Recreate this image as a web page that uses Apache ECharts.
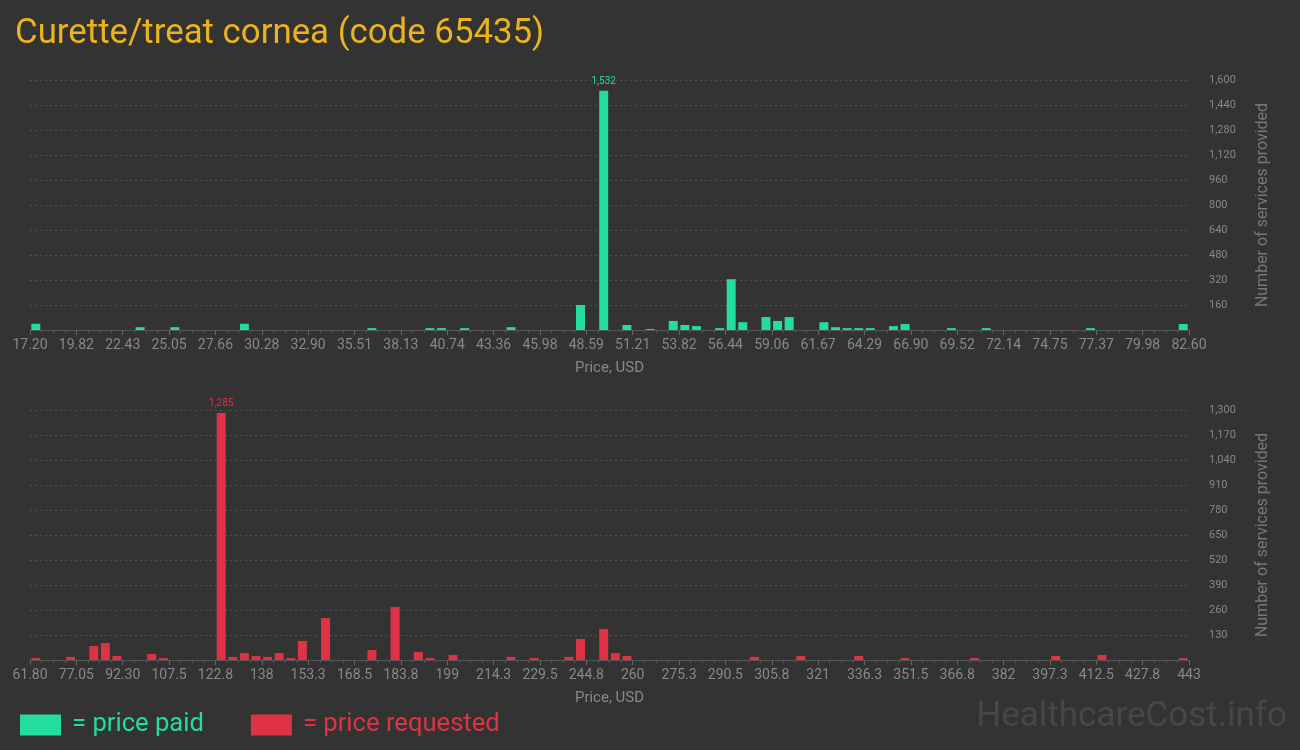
<!DOCTYPE html>
<html>
<head>
<meta charset="utf-8">
<script src="https://cdn.jsdelivr.net/npm/echarts@6/dist/echarts.min.js"></script>
<style>
html,body{margin:0;padding:0;background:#333333;}
#chart{width:1300px;height:750px;}
</style>
</head>
<body>
<div id="chart"></div>
<script>
// ---- data ----
const titleText = 'Curette/treat cornea (code 65435)';
const xLabelsTop = ['17.20','19.82','22.43','25.05','27.66','30.28','32.90','35.51','38.13','40.74','43.36','45.98','48.59','51.21','53.82','56.44','59.06','61.67','64.29','66.90','69.52','72.14','74.75','77.37','79.98','82.60'];
const xLabelsBottom = ['61.80','77.05','92.30','107.5','122.8','138','153.3','168.5','183.8','199','214.3','229.5','244.8','260','275.3','290.5','305.8','321','336.3','351.5','366.8','382','397.3','412.5','427.8','443'];
// bin index (0..99) of each bar, and count in that bin
const paidBins = [0,9,12,18,29,34,35,37,41,47,49,51,53,55,56,57,59,60,61,63,64,65,68,69,70,71,72,74,75,79,82,91,99];
const paidCounts = [40,18,18,40,12,12,12,12,18,160,1532,32,6,58,32,25,12,325,50,83,58,83,50,18,12,12,12,25,38,12,12,12,38];
const requestedBins = [0,3,5,6,7,10,11,16,17,18,19,20,21,22,23,25,29,31,33,34,36,41,43,46,47,49,50,51,62,66,71,75,81,88,92,99];
const requestedCounts = [10,16,73,88,21,31,10,1285,16,36,21,16,36,10,99,218,52,276,42,10,26,16,10,16,109,161,36,21,16,21,21,10,10,21,26,10];
const yTopMax = 1600, yTopStep = 160;
const yBottomMax = 1300, yBottomStep = 130;
const binCount = 100, binsPerLabel = 4;

const GREEN = '#22dd9b';
const RED = '#dd3344';
const FONT = 'Roboto';

function fmt(n){ return n.toLocaleString('en-US'); }

function buildData(bins, counts, color){
  const maxV = Math.max.apply(null, counts);
  return bins.map((b, k) => {
    const item = { value: [b + 0.5, counts[k]] };
    if (counts[k] === maxV) {
      item.label = { show: true, position: 'top', distance: 4, color: color, fontSize: 10, fontFamily: FONT,
        formatter: (p) => fmt(p.value[1]) };
    }
    return item;
  });
}

function xAxisCfg(gridIndex, labels){
  return {
    type: 'value', gridIndex: gridIndex, min: 0, max: binCount, interval: binsPerLabel,
    name: 'Price, USD', nameLocation: 'middle', nameGap: 31,
    nameTextStyle: { color: '#888', fontSize: 15, fontFamily: FONT },
    axisLine: { show: true, lineStyle: { color: '#555' } },
    axisTick: { show: true, length: 5, lineStyle: { color: '#666' } },
    minorTick: { show: true, splitNumber: binsPerLabel, length: 3, lineStyle: { color: '#555' } },
    splitLine: { show: false },
    axisLabel: { color: '#888', fontSize: 14, fontFamily: FONT, margin: 8,
      showMinLabel: true, showMaxLabel: true,
      formatter: (v) => labels[Math.round(v / binsPerLabel)] }
  };
}

function yAxisCfg(gridIndex, max, step){
  return {
    type: 'value', gridIndex: gridIndex, position: 'right', min: 0, max: max, interval: step,
    name: 'Number of services provided', nameLocation: 'middle', nameGap: 66,
    nameTextStyle: { color: '#777', fontSize: 16, fontFamily: FONT },
    axisLine: { show: false }, axisTick: { show: false },
    splitLine: { show: true, lineStyle: { color: '#505050', type: [2, 3] } },
    axisLabel: { color: '#888', fontSize: 11, fontFamily: FONT, margin: 20,
      formatter: (v) => v === 0 ? '' : fmt(v) }
  };
}

const chart = echarts.init(document.getElementById('chart'));
chart.setOption({
  backgroundColor: '#333333',
  animation: false,
  title: { text: titleText, left: 10, top: 12,
    textStyle: { color: '#ecb31c', fontSize: 34.8, fontWeight: 'normal', fontFamily: FONT } },
  legend: {
    left: 15, top: 707, itemWidth: 41, itemHeight: 21, itemGap: 47,
    icon: 'rect',
    data: [
      { name: '= price paid', textStyle: { color: GREEN } },
      { name: '= price requested', textStyle: { color: RED } }
    ],
    textStyle: { fontSize: 25.6, fontFamily: FONT, padding: [0, 0, 0, 6] }
  },
  graphic: [{
    type: 'text', right: 13, top: 700,
    style: { text: 'HealthcareCost.info', fill: '#474747', fontSize: 35, fontFamily: FONT }
  }],
  grid: [
    { left: 30, right: 111, top: 80, height: 250 },
    { left: 30, right: 111, top: 410, height: 250 }
  ],
  xAxis: [ xAxisCfg(0, xLabelsTop), xAxisCfg(1, xLabelsBottom) ],
  yAxis: [ yAxisCfg(0, yTopMax, yTopStep), yAxisCfg(1, yBottomMax, yBottomStep) ],
  series: [
    { name: '= price paid', type: 'bar', xAxisIndex: 0, yAxisIndex: 0, barWidth: 9,
      itemStyle: { color: GREEN }, data: buildData(paidBins, paidCounts, GREEN) },
    { name: '= price requested', type: 'bar', xAxisIndex: 1, yAxisIndex: 1, barWidth: 9,
      itemStyle: { color: RED }, data: buildData(requestedBins, requestedCounts, RED) }
  ]
});
</script>
</body>
</html>
